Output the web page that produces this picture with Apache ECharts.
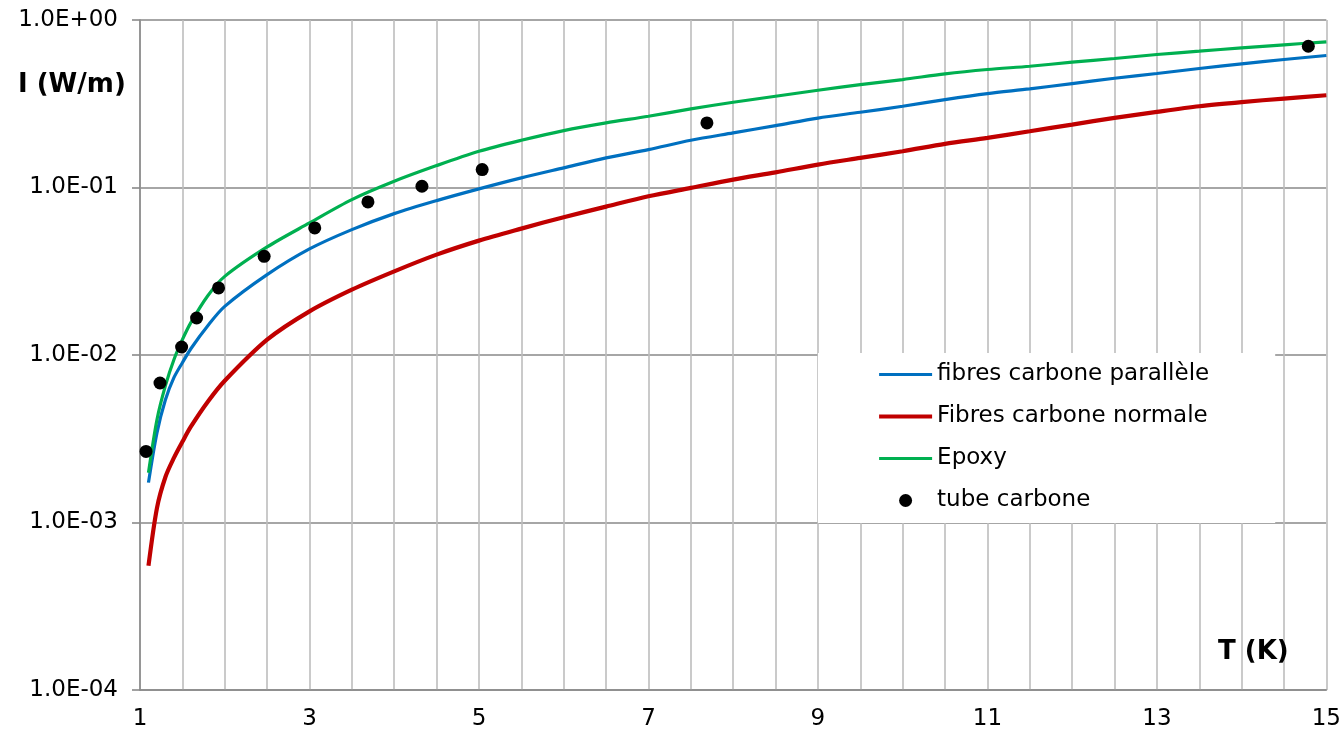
<!DOCTYPE html>
<html>
<head>
<meta charset="utf-8">
<script src="https://cdn.jsdelivr.net/npm/echarts@6/dist/echarts.min.js"></script>
<style>
  html, body { margin: 0; padding: 0; background: #fff; }
  #chart { width: 1344px; height: 732px; }
</style>
</head>
<body>
<div id="chart"></div>
<script>
// Temperature samples (K)
const temps = [1.1, 1.2, 1.3, 1.4, 1.5, 1.6, 1.8, 2, 2.5, 3, 3.5, 4, 4.5, 5, 5.5, 6, 6.5, 7, 7.5, 8, 8.5, 9, 9.5, 10, 10.5, 11, 11.5, 12, 12.5, 13, 13.5, 14, 14.5, 15];
// I (W/m)
const fibresParallele = [0.00173, 0.00343, 0.00541, 0.00732, 0.00899, 0.0109, 0.01496, 0.01951, 0.03018, 0.04297, 0.05604, 0.06983, 0.08347, 0.09808, 0.1141, 0.1310, 0.1502, 0.1684, 0.1914, 0.2119, 0.2343, 0.2598, 0.2813, 0.3055, 0.3350, 0.3638, 0.3882, 0.4175, 0.4490, 0.4791, 0.5132, 0.5474, 0.5808, 0.6137];
const fibresNormale = [0.000551, 0.00122, 0.00187, 0.00243, 0.00303, 0.00373, 0.00526, 0.00702, 0.01234, 0.01822, 0.02455, 0.03158, 0.03974, 0.04818, 0.05682, 0.0665, 0.07687, 0.0886, 0.09945, 0.1115, 0.1232, 0.1370, 0.1502, 0.1645, 0.1822, 0.1979, 0.2166, 0.2375, 0.2604, 0.2829, 0.3055, 0.3236, 0.3397, 0.3554];
const epoxy = [0.00198, 0.00411, 0.00656, 0.00937, 0.01234, 0.0156, 0.0226, 0.02947, 0.04417, 0.06144, 0.08467, 0.1089, 0.1351, 0.1645, 0.1914, 0.2187, 0.2431, 0.2662, 0.2948, 0.3228, 0.3506, 0.3807, 0.4118, 0.4411, 0.4771, 0.5063, 0.5297, 0.5597, 0.5888, 0.6222, 0.6512, 0.6821, 0.7109, 0.7408];
// Measured points: tube carbone
const tubeT = [1.071, 1.236, 1.491, 1.668, 1.927, 2.465, 3.062, 3.69, 4.327, 5.038, 7.69, 14.787];
const tubeI = [0.002655, 0.006805, 0.01116, 0.01663, 0.02513, 0.03882, 0.05737, 0.08204, 0.1017, 0.1279, 0.2431, 0.6973];
// Tick labels
const xTickLabels = ['1', '3', '5', '7', '9', '11', '13', '15'];
const yTickLabels = ['1.0E-04', '1.0E-03', '1.0E-02', '1.0E-01', '1.0E+00'];

const seriesNames = ['fibres carbone parallèle', 'Fibres carbone normale', 'Epoxy', 'tube carbone'];
const colors = ['#0070c0', '#c00000', '#00b050', '#000000'];
const FONT = 'DejaVu Sans';

const pair = (xs, ys) => xs.map((x, i) => [x, ys[i]]);

const chart = echarts.init(document.getElementById('chart'), null, { renderer: 'canvas' });
chart.setOption({
  animation: false,
  backgroundColor: '#ffffff',
  grid: { left: 140, right: 16, top: 20, bottom: 42, containLabel: false },
  xAxis: {
    type: 'value', min: 1, max: 15, interval: 0.5,
    axisLine: { show: true, lineStyle: { color: '#898989', width: 1.6 } },
    axisTick: { show: false },
    axisLabel: {
      margin: 18, fontSize: 23, fontFamily: FONT, color: '#000',
      showMinLabel: true, showMaxLabel: true,
      formatter: v => { const s = String(Math.round(v * 100) / 100); return xTickLabels.includes(s) ? s : ''; }
    },
    splitLine: { show: true, lineStyle: { color: '#bdbdbd', width: 1.6 } }
  },
  yAxis: {
    type: 'log', logBase: 10, min: 0.0001, max: 1,
    axisLine: { show: true, lineStyle: { color: '#898989', width: 1.6 } },
    axisTick: { show: true, length: 8, lineStyle: { color: '#898989', width: 1.6 } },
    axisLabel: {
      margin: 22, fontSize: 23, fontFamily: FONT, color: '#000',
      formatter: v => yTickLabels[Math.round(Math.log10(v)) + 4] || ''
    },
    splitLine: { show: true, lineStyle: { color: '#898989', width: 1.6 } },
    minorSplitLine: { show: false }
  },
  legend: {
    orient: 'vertical', left: 818, top: 353,
    itemWidth: 53, itemHeight: 13, itemGap: 19,
    padding: [10, 66, 11, 59],
    backgroundColor: '#ffffff',
    textStyle: { fontSize: 23, fontFamily: FONT, color: '#000' },
    data: [
      { name: seriesNames[0], itemStyle: { opacity: 0 }, lineStyle: { color: colors[0], width: 3.2 } },
      { name: seriesNames[1], itemStyle: { opacity: 0 }, lineStyle: { color: colors[1], width: 4.2 } },
      { name: seriesNames[2], itemStyle: { opacity: 0 }, lineStyle: { color: colors[2], width: 3.2 } },
      { name: seriesNames[3], icon: 'circle', itemStyle: { color: colors[3], opacity: 1 } }
    ],
    z: 10
  },
  graphic: [
    { type: 'text', left: 18, top: 72, z: 20,
      style: { text: 'I (W/m)', fontSize: 26, fontWeight: 'bold', fontFamily: FONT, fill: '#000' } },
    { type: 'text', left: 1218, top: 639, z: 20,
      style: { text: 'T (K)', fontSize: 26, fontWeight: 'bold', fontFamily: FONT, fill: '#000' } }
  ],
  series: [
    { name: seriesNames[0], type: 'line', data: pair(temps, fibresParallele), symbol: 'none', smooth: 0.3,
      lineStyle: { color: colors[0], width: 3.2 }, itemStyle: { color: colors[0] } },
    { name: seriesNames[1], type: 'line', data: pair(temps, fibresNormale), symbol: 'none', smooth: 0.3,
      lineStyle: { color: colors[1], width: 4.2 }, itemStyle: { color: colors[1] } },
    { name: seriesNames[2], type: 'line', data: pair(temps, epoxy), symbol: 'none', smooth: 0.3,
      lineStyle: { color: colors[2], width: 3.2 }, itemStyle: { color: colors[2] } },
    { name: seriesNames[3], type: 'scatter', data: pair(tubeT, tubeI), symbol: 'circle', symbolSize: 13,
      itemStyle: { color: colors[3], opacity: 1 }, z: 5 }
  ]
});
</script>
</body>
</html>
